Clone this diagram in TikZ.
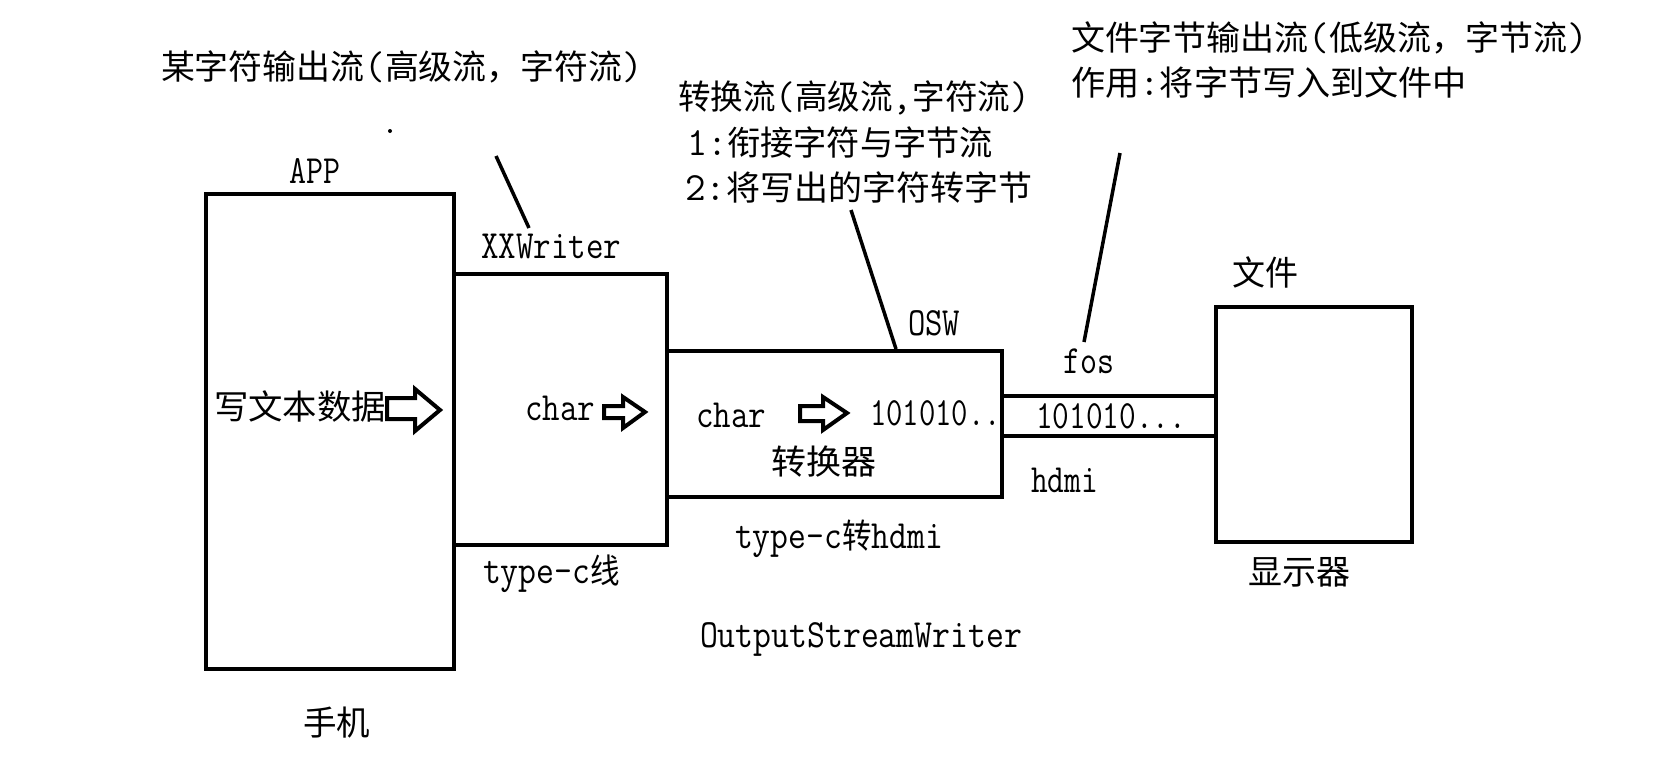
\documentclass[tikz,border=0pt]{standalone}
\usepackage{fontspec}
\usepackage{graphicx}
\newfontfamily\cjkf{Noto Sans CJK SC}
\newcommand{\cjk}{\cjkf\fontsize{34}{40}\selectfont}
\newcommand{\tw}[2]{\resizebox{#1pt}{\height}{#2}}
\begin{document}
\begin{tikzpicture}[x=1pt,y=-1pt,
  txt/.style={inner sep=0pt,outer sep=0pt,anchor=base west,font=\ttfamily\fontsize{40}{46}\selectfont},
  boxline/.style={line width=4pt,line join=miter},
  pointer/.style={line width=3.5pt,line cap=butt},
  blockarrow/.style={line width=4pt,line join=miter,fill=white}]
\useasboundingbox (0,0) rectangle (1678,772);
\fill[white] (0,0) rectangle (1678,772);
% boxes
\draw[boxline] (206,194) rectangle (454,669);
\draw[boxline] (454,274) rectangle (667,545);
\draw[boxline] (667,351) rectangle (1002,497);
\draw[boxline] (1216,307) rectangle (1412,542);
\draw[boxline] (1002,396) -- (1216,396);
\draw[boxline] (1002,436) -- (1216,436);
% annotation pointers
\coordinate (p1a) at (496,156); \coordinate (p1b) at (529,228);
\coordinate (p2a) at (851,210); \coordinate (p2b) at (896,349);
\coordinate (p3a) at (1120,153); \coordinate (p3b) at (1084,342);
\draw[pointer] (p1a) -- (p1b);
\draw[pointer] (p2a) -- (p2b);
\draw[pointer] (p3a) -- (p3b);
\fill (390,131) circle (2pt);
% block arrows
\draw[blockarrow] (387,398) -- (415,398) -- (415,389) -- (440,410) -- (415,431) -- (415,419) -- (387,419) -- cycle;
\draw[blockarrow] (604,406) -- (623,406) -- (623,397) -- (645,412) -- (623,428) -- (623,418) -- (604,418) -- cycle;
\draw[blockarrow] (800,406) -- (823,406) -- (823,397) -- (847,413) -- (823,430) -- (823,421) -- (800,421) -- cycle;
% texts
\node[txt] (t1) at (161,79) {\tw{482}{{\cjk 某字符输出流}({\cjk 高级流，字符流})}};
\node[txt] (t2) at (1071,50) {\tw{517}{{\cjk 文件字节输出流}({\cjk 低级流，字节流})}};
\node[txt] (t3) at (1071,95) {\tw{396}{{\cjk 作用}:{\cjk 将字节写入到文件中}}};
\node[txt] (t4) at (678,109) {\tw{352}{{\cjk 转换流}({\cjk 高级流},{\cjk 字符流})}};
\node[txt] (t5) at (687,155) {\tw{306}{1:{\cjk 衔接字符与字节流}}};
\node[txt] (t6) at (685,200) {\tw{347}{2:{\cjk 将写出的字符转字节}}};
\node[txt] (app) at (289,183) {\tw{51}{APP}};
\node[txt] (xxw) at (481,258) {\tw{140}{XXWriter}};
\node[txt] (osw) at (908,335) {\tw{52}{OSW}};
\node[txt] (fos) at (1063,373) {\tw{51}{fos}};
\node[txt] (wj) at (1232,285) {\tw{66}{\cjk 文件}};
\node[txt] (xwb) at (214,419) {\tw{172}{\cjk 写文本数据}};
\node[txt] (ch1) at (525,420) {\tw{70}{char}};
\node[txt] (ch2) at (696,427) {\tw{70}{char}};
\node[txt] (b1) at (870,425) {\tw{131}{101010..}};
\node[txt] (b2) at (1036,428) {\tw{150}{101010...}};
\node[txt] (zhq) at (771,474) {\tw{105}{\cjk 转换器}};
\node[txt] (hdmi) at (1031,492) {\tw{67}{hdmi}};
\node[txt] (tch) at (735,548) {\tw{208}{type-c{\cjk 转}hdmi}};
\node[txt] (tcx) at (483,583) {\tw{137}{type-c{\cjk 线}}};
\node[txt] (xsq) at (1248,584) {\tw{102}{\cjk 显示器}};
\node[txt] (osww) at (700,647) {\tw{322}{OutputStreamWriter}};
\node[txt] (sj) at (303,735) {\tw{67}{\cjk 手机}};
\end{tikzpicture}
\end{document}
